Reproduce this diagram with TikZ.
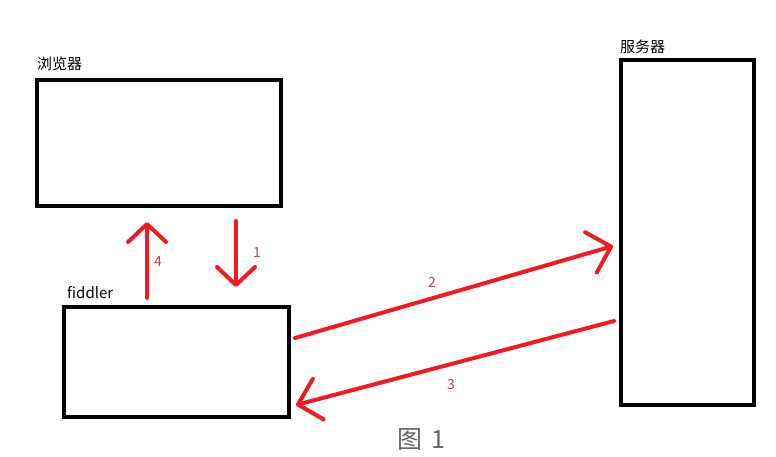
\documentclass[tikz,border=0pt]{standalone}
\usepackage{fontspec}
\newfontfamily\cjk{Noto Sans CJK SC}
\usetikzlibrary{arrows.meta}
\definecolor{arrowred}{RGB}{237,28,36}
\definecolor{numred}{RGB}{200,60,72}
\definecolor{capgray}{RGB}{100,100,100}
\tikzset{
  box/.style={draw=black, line width=4pt, inner sep=0pt, fill=white},
  title/.style={font=\cjk\fontsize{15pt}{15pt}\selectfont, inner sep=0pt, anchor=base west},
  num/.style={font=\cjk\fontsize{14pt}{14pt}\selectfont, text=numred, inner sep=0pt},
  redarrow/.style={draw=arrowred, line width=4pt, line cap=round, line join=round,
    -{Straight Barb[length=18pt, width=38pt, round]}},
}
\begin{document}
\begin{tikzpicture}[x=1pt, y=-1pt]
\useasboundingbox (0,0) rectangle (776,456);
% boxes
\node[box, minimum width=244pt, minimum height=126pt] (browser) at (159,143) {};
\node[box, minimum width=225pt, minimum height=110pt] (fiddler) at (176.5,362) {};
\node[box, minimum width=133pt, minimum height=345pt] (server) at (687.5,232.5) {};
% titles
\node[title] (tbrowser) at (37,69) {浏览器};
\node[title] (tfiddler) at (67,298) {fiddler};
\node[title] (tserver) at (620,52) {服务器};
% arrow end points
\coordinate (a4s) at (147,298);
\coordinate (a4e) at (147,222);
\coordinate (a1s) at (236,221);
\coordinate (a1e) at (236,287);
\coordinate (a2s) at (295,338);
\coordinate (a2e) at (613,246);
\coordinate (a3s) at (614,321);
\coordinate (a3e) at (296,405);
\draw[redarrow] (a4s) -- (a4e);
\draw[redarrow] (a1s) -- (a1e);
\draw[redarrow, -{Straight Barb[length=21pt, width=42pt, round]}] (a2s) -- (a2e);
\draw[redarrow, -{Straight Barb[length=21pt, width=42pt, round]}] (a3s) -- (a3e);
% numbers
\node[num] (n4) at (158,262) {4};
\node[num] (n1) at (257,253) {1};
\node[num] (n2) at (432,282) {2};
\node[num] (n3) at (451,384) {3};
% caption
\node[font=\cjk\fontsize{25pt}{25pt}\selectfont, text=capgray, inner sep=0pt] (cap) at (421.5,439.5) {图\hspace{9pt}1};
\end{tikzpicture}
\end{document}
